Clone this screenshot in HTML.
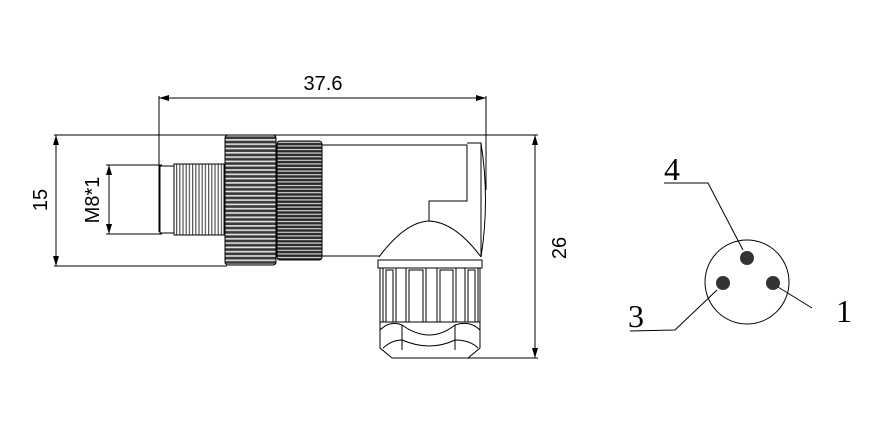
<!DOCTYPE html>
<html><head><style>html,body{margin:0;padding:0;background:#fff}svg{display:block}</style></head><body>
<svg width="896" height="443" viewBox="0 0 896 443" xmlns="http://www.w3.org/2000/svg" font-family="Liberation Sans, sans-serif">
<defs>
<marker id="a" viewBox="0 0 10 6" refX="10" refY="3" markerWidth="10" markerHeight="6" orient="auto-start-reverse"><path d="M0,0L10,3L0,6z" fill="#000"/></marker>
<pattern id="k1" width="4" height="4.3" patternUnits="userSpaceOnUse"><rect width="4" height="4.3" fill="#3a3a3a"/><rect y="1.5" width="4" height="1.6" fill="#e4e4e4"/></pattern>
<pattern id="k2" width="4" height="3.6" patternUnits="userSpaceOnUse"><rect width="4" height="3.6" fill="#2a2a2a"/><rect y="1.3" width="4" height="1.2" fill="#d4d4d4"/></pattern>
<pattern id="th" width="3.2" height="4" patternUnits="userSpaceOnUse"><rect width="3.2" height="4" fill="#fff"/><rect width="1.2" height="4" fill="#555"/></pattern>
</defs>
<g stroke="#000" stroke-width="1" fill="none">
<line x1="159" y1="98" x2="486" y2="98" marker-start="url(#a)" marker-end="url(#a)"/>
<line x1="159" y1="96" x2="159" y2="232"/>
<line x1="486" y1="96" x2="486" y2="190"/>
<line x1="54" y1="135" x2="538" y2="135"/>
<line x1="54" y1="266" x2="227" y2="266"/>
<line x1="56" y1="135" x2="56" y2="266" marker-start="url(#a)" marker-end="url(#a)"/>
<line x1="106" y1="165" x2="162" y2="165"/>
<line x1="106" y1="234" x2="162" y2="234"/>
<line x1="109" y1="165" x2="109" y2="234" marker-start="url(#a)" marker-end="url(#a)"/>
<line x1="392" y1="358" x2="538" y2="358"/>
<line x1="535" y1="135" x2="535" y2="358" marker-start="url(#a)" marker-end="url(#a)"/>
<rect x="160" y="166" width="14" height="67"/>
<rect x="174" y="164" width="50" height="71" fill="url(#th)"/>
<rect x="225" y="135" width="51" height="130" rx="3" fill="url(#k1)"/>
<rect x="277" y="141" width="45" height="119" rx="3" fill="url(#k2)"/>
<path d="M322,145H467V201H429V221" />
<line x1="322" y1="256" x2="380" y2="256"/>
<path d="M467,143H481Q490,200 481,257"/>
<line x1="481" y1="143" x2="481" y2="257"/>
<path d="M379,257Q405,222 429,221Q455,222 481,257"/>
<rect x="378" y="260" width="104" height="8"/>
<path d="M380,268V330M480,268V330"/>
<rect x="383" y="268" width="13" height="54"/><rect x="386" y="270" width="7" height="52"/>
<rect x="406" y="268" width="20" height="54"/><rect x="409" y="270" width="14" height="52"/>
<rect x="437" y="268" width="19" height="54"/><rect x="440" y="270" width="13" height="52"/>
<rect x="465" y="268" width="13" height="54"/><rect x="468" y="270" width="7" height="52"/>
<path d="M380,322H480"/>
<path d="M380,330Q390,320 402,325Q430,345 455,325Q470,320 480,330"/>
<path d="M380,330V348L392,358M480,330V348L468,358"/>
<path d="M383,348Q392,340 402,340Q430,352 455,340Q470,340 478,348"/>
<path d="M402,325V350M455,325V350"/>
<circle cx="747" cy="282" r="42"/>
<path d="M664,183H708L743,250"/>
<path d="M630,331L675,330L717,290"/>
<path d="M778,287L812,308"/>
</g>
<g fill="#333"><circle cx="747" cy="258" r="7"/><circle cx="723" cy="283" r="7"/><circle cx="773" cy="283" r="7"/></g>
<g fill="#000" font-size="20">
<text x="323" y="90" text-anchor="middle">37.6</text>
<text transform="translate(47,200) rotate(-90)" text-anchor="middle">15</text>
<text transform="translate(99,200) rotate(-90)" text-anchor="middle">M8*1</text>
<text transform="translate(566,248) rotate(-90)" text-anchor="middle">26</text>
</g>
<g fill="#000" font-family="Liberation Serif, serif" font-size="32">
<text x="664" y="180">4</text>
<text x="628" y="327">3</text>
<text x="836" y="322">1</text>
</g>
</svg>
</body></html>
